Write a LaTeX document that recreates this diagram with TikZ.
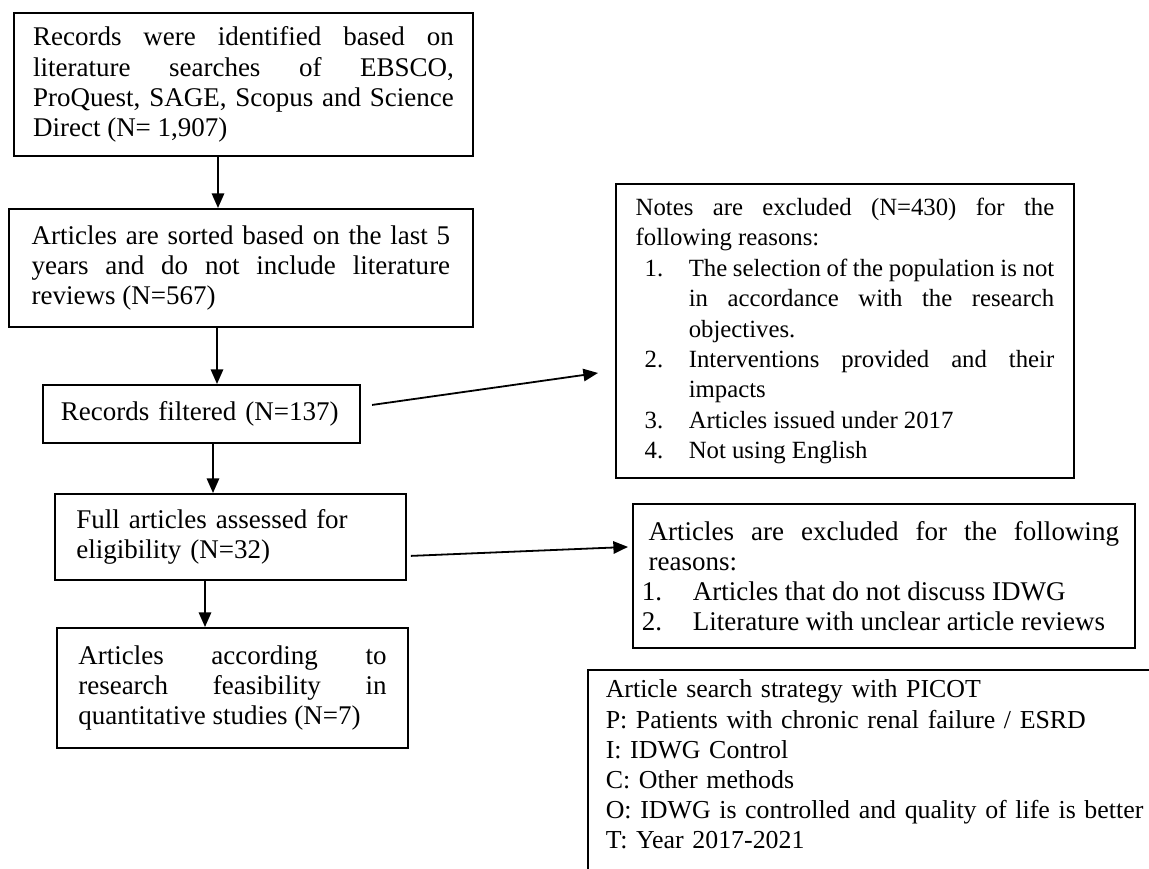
\documentclass[tikz,border=0pt]{standalone}
\usepackage{fontspec}
\setmainfont{Liberation Serif}
\usepackage{enumitem}
\usetikzlibrary{arrows.meta}
\hyphenpenalty=10000
\tikzset{
  box/.style={draw, line width=0.8pt, anchor=north west, inner ysep=2pt, align=justify,
    font=\fontsize{12pt}{13.4pt}\selectfont},
  arr/.style={-{Triangle[length=6.5pt,width=5.5pt]}, line width=0.8pt}
}
\begin{document}
\begin{tikzpicture}[x=0.4444pt, y=-0.4444pt]
\useasboundingbox (0,0) rectangle (1149,868);
\clip (0,0) rectangle (1149,868);
% left column
\node (ident) at (13,12) [box, text width=187pt, inner xsep=8.5pt, minimum height=63.6pt]
  {Records were identified based on\linebreak literature searches of EBSCO,\linebreak
   ProQuest, SAGE, Scopus and Science\linebreak Direct (N= 1,907)};
\node (sort) at (8,208) [box, text width=186pt, inner xsep=10.1pt, minimum height=52.4pt]
  {Articles are sorted based on the last 5\linebreak years and do not include literature\linebreak reviews (N=567)};
\node (rec) at (42,384) [box, align=left, text width=125pt, inner xsep=8pt, minimum height=25.8pt]
  {Records filtered (N=137)};
\node (full) at (54,493) [box, align=left, text width=137pt, inner xsep=9.5pt, minimum height=38.2pt]
  {Full articles assessed for\\ eligibility (N=32)};
\node (feas) at (56,627) [box, text width=137pt, inner xsep=9.5pt, minimum height=53.3pt]
  {Articles according to\linebreak research feasibility in\linebreak quantitative studies (N=7)};
% right column
\node (notes) at (615,183) [box, font=\fontsize{11pt}{13.55pt}\selectfont, text width=186pt,
    inner xsep=8.8pt, minimum height=130.7pt]
  {Notes are excluded (N=430) for the following reasons:
  \begin{enumerate}[nosep, leftmargin=23.6pt, labelindent=4pt, labelwidth=10pt, labelsep=*, align=left]
  \item The selection of the population is not\linebreak in accordance with the research\linebreak objectives.
  \item Interventions provided and their\linebreak impacts
  \item Articles issued under 2017
  \item Not using English
  \end{enumerate}};
\node (excl) at (632,503) [box, text width=209pt, inner xsep=7pt, minimum height=64pt]
  {Articles are excluded for the following reasons:
  \begin{enumerate}[nosep, leftmargin=19.6pt, labelindent=-3pt, labelwidth=10pt, labelsep=*, align=left]
  \item Articles that do not discuss IDWG
  \item Literature with unclear article reviews
  \end{enumerate}};
\node (picot) at (588,670) [box, draw=none, align=left, font=\fontsize{11.5pt}{13.4pt}\selectfont,
    text width=250pt, inner xsep=7.5pt, inner ysep=4pt]
  {Article search strategy with PICOT\\
   P: Patients with chronic renal failure / ESRD\\
   I: IDWG Control\\
   C: Other methods\\
   O: IDWG is controlled and quality of life is better\\
   T: Year 2017-2021};
\draw [line width=0.8pt] (picot.north west) rectangle ++(700,300);
% arrows
\draw [arr] (ident.south -| 218,0) -- (sort.north -| 218,0);
\draw [arr] (sort.south -| 217,0) -- (rec.north -| 217,0);
\draw [arr] (rec.south -| 213,0) -- (full.north -| 213,0);
\draw [arr] (full.south -| 205,0) -- (feas.north -| 205,0);
\draw [arr] ([shift={(11,-9)}]rec.east) -- ([shift={(-17,42)}]notes.west);
\draw [arr] ([shift={(4,19)}]full.east) -- ([shift={(-4,-29)}]excl.west);
\end{tikzpicture}
\end{document}
